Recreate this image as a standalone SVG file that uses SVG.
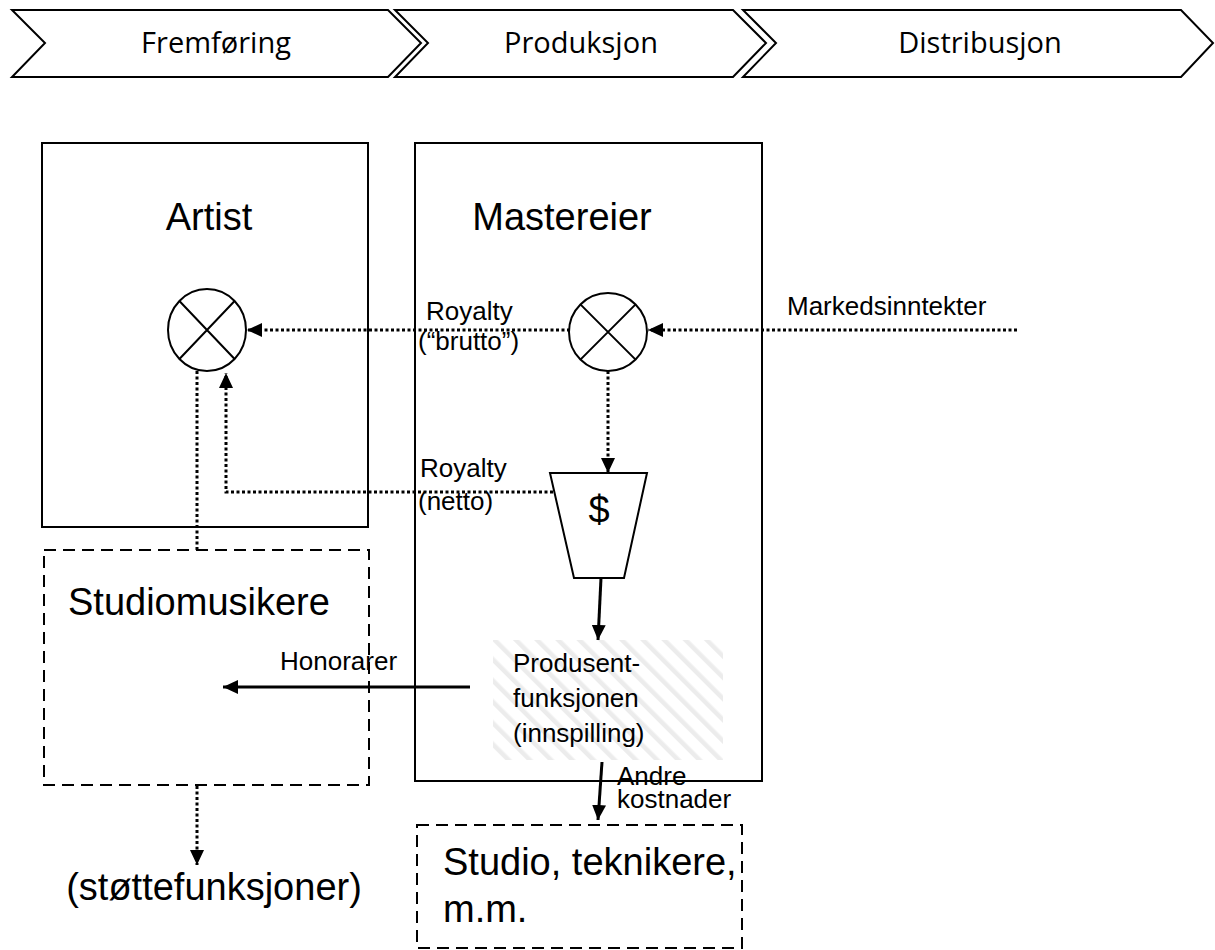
<svg xmlns="http://www.w3.org/2000/svg" width="1215" height="950" viewBox="0 0 1215 950">
  <style>
    .chev { fill: #fff; stroke: #000; stroke-width: 2; stroke-linejoin: miter; }
    .chev-t { font-family: "Open Sans", "Liberation Sans", sans-serif; font-size: 29px; fill: #000; text-anchor: middle; }
    .box { fill: none; stroke: #000; stroke-width: 2; }
    .dash { fill: none; stroke: #000; stroke-width: 2; stroke-dasharray: 12 7; }
    .big { font-family: "Liberation Sans", Arial, sans-serif; font-size: 38px; fill: #000; }
    .lbl { font-family: "Liberation Sans", Arial, sans-serif; font-size: 26px; fill: #000; }
    .dot { fill: none; stroke: #000; stroke-width: 3; stroke-dasharray: 3 2.5; }
    .solid { fill: none; stroke: #000; stroke-width: 3; }
    .mix { fill: #fff; stroke: #000; stroke-width: 2; }
  </style>
  <defs>
    <marker id="ah" markerWidth="16" markerHeight="14" refX="15" refY="7" orient="auto" markerUnits="userSpaceOnUse">
      <path d="M0,0 L15,7 L0,14 z" fill="#000"/>
    </marker>
    <pattern id="hatch" patternUnits="userSpaceOnUse" width="15" height="15" patternTransform="rotate(-45)">
      <rect width="15" height="15" fill="#fff"/>
      <rect x="0" y="0" width="4.5" height="15" fill="#ececec"/>
    </pattern>
  </defs>

  <!-- value chain stages -->
  <g id="stage-fremforing">
    <polygon class="chev" points="12,10 388,10 421,43 388,77 12,77 45,43"/>
    <text class="chev-t" x="216" y="53">Fremføring</text>
  </g>
  <g id="stage-produksjon">
    <polygon class="chev" points="395,10 733,10 766,43 733,77 395,77 428,43"/>
    <text class="chev-t" x="581" y="53">Produksjon</text>
  </g>
  <g id="stage-distribusjon">
    <polygon class="chev" points="743,10 1181,10 1213,43 1181,77 743,77 776,43"/>
    <text class="chev-t" x="980" y="53">Distribusjon</text>
  </g>

  <!-- actors -->
  <g id="artist">
    <rect class="box" x="42" y="143" width="326" height="384"/>
    <text class="big" x="209" y="230" text-anchor="middle">Artist</text>
  </g>
  <g id="mastereier">
    <rect class="box" x="415" y="143" width="347" height="638"/>
    <text class="big" x="562" y="230" text-anchor="middle">Mastereier</text>
  </g>
  <g id="produsent">
    <rect x="493" y="640" width="230" height="120" fill="url(#hatch)"/>
    <text class="lbl" x="513" y="672">Produsent-</text>
    <text class="lbl" x="513" y="707">funksjonen</text>
    <text class="lbl" x="513" y="742">(innspilling)</text>
  </g>
  <g id="studiomusikere">
    <rect class="dash" x="44" y="550" width="325" height="235"/>
    <text class="big" x="68" y="615">Studiomusikere</text>
  </g>
  <g id="studio">
    <rect class="dash" x="417" y="825" width="325" height="123"/>
    <text class="big" x="443" y="875">Studio, teknikere,</text>
    <text class="big" x="443" y="922">m.m.</text>
  </g>
  <g id="stottefunksjoner">
    <text class="big" x="214" y="900" text-anchor="middle">(støttefunksjoner)</text>
  </g>

  <!-- summing points and cost filter -->
  <g id="sum-artist">
    <ellipse class="mix" cx="207" cy="330" rx="39" ry="41"/>
    <path d="M179.4,301 L234.6,359 M234.6,301 L179.4,359" stroke="#000" stroke-width="2"/>
  </g>
  <g id="sum-master">
    <ellipse class="mix" cx="608" cy="332" rx="39" ry="39"/>
    <path d="M580.4,304.4 L635.6,359.6 M635.6,304.4 L580.4,359.6" stroke="#000" stroke-width="2"/>
  </g>
  <g id="kostnadsfilter">
    <polygon class="mix" points="550,473 647,473 624,578 574,578"/>
    <text class="big" x="599" y="523" text-anchor="middle">$</text>
  </g>

  <!-- money flows -->
  <g id="connectors">
    <path class="dot" d="M1017,330 H648" marker-end="url(#ah)"/>
    <path class="dot" d="M570,330 H247" marker-end="url(#ah)"/>
    <path class="dot" d="M608,371 V473" marker-end="url(#ah)"/>
    <path class="dot" d="M553,492 H226 V373" marker-end="url(#ah)"/>
    <path class="dot" d="M197,371 V550"/>
    <path class="dot" d="M197,786 V865" marker-end="url(#ah)"/>
    <path class="solid" d="M601,578 L598,640" marker-end="url(#ah)"/>
    <path class="solid" d="M470,687 H223" marker-end="url(#ah)"/>
    <path class="solid" d="M602,762 L598,820" marker-end="url(#ah)"/>
  </g>

  <!-- flow labels -->
  <g id="labels">
    <text class="lbl" x="426" y="320">Royalty</text>
    <text class="lbl" x="418" y="350">(“brutto”)</text>
    <text class="lbl" x="787" y="315">Markedsinntekter</text>
    <text class="lbl" x="420" y="477">Royalty</text>
    <text class="lbl" x="418" y="510">(netto)</text>
    <text class="lbl" x="280" y="670">Honorarer</text>
    <text class="lbl" x="617" y="785">Andre</text>
    <text class="lbl" x="617" y="808">kostnader</text>
  </g>
</svg>
